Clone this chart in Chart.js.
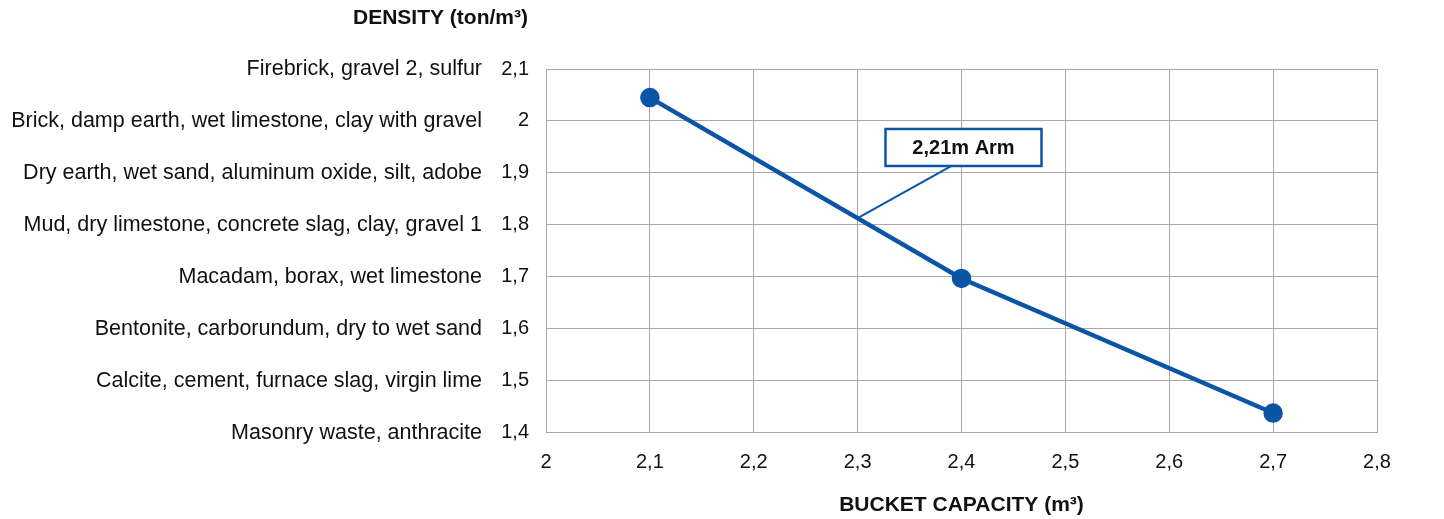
<!DOCTYPE html>
<html>
<head>
<meta charset="utf-8">
<script src="https://cdn.jsdelivr.net/npm/chart.js@4/dist/chart.umd.min.js"></script>
<style>
  html, body { margin: 0; padding: 0; background: #fff; }
  #wrap { width: 1444px; height: 519px; }
</style>
</head>
<body>
<div id="wrap"><canvas id="chart"></canvas></div>
<script>
// bucket capacity (m3) vs density (ton/m3)
var capacity = [2.1, 2.4, 2.7];
var density = [2.045, 1.697, 1.438];

// material names for each density tick, from 1,4 up to 2,1
var densityTicks = [1.4, 1.5, 1.6, 1.7, 1.8, 1.9, 2.0, 2.1];
var materials = [
  "Masonry waste, anthracite",
  "Calcite, cement, furnace slag, virgin lime",
  "Bentonite, carborundum, dry to wet sand",
  "Macadam, borax, wet limestone",
  "Mud, dry limestone, concrete slag, clay, gravel 1",
  "Dry earth, wet sand, aluminum oxide, silt, adobe",
  "Brick, damp earth, wet limestone, clay with gravel",
  "Firebrick, gravel 2, sulfur"
];

// callout
var calloutText = "2,21m Arm";
var calloutAt = { x: 2.4, y: 1.949 };   // box centre
var calloutTip = { x: 2.3, y: 1.813 };  // point on the line

var blue = "#0a55a6";
var gridColor = "#a8a8a8";
var fontFamily = "'Liberation Sans', Arial, Helvetica, sans-serif";

function comma(v) {
  return String(Math.round(v * 10) / 10).replace(".", ",");
}

// draws the y title and the callout box
var extras = {
  id: "extras",
  afterDatasetsDraw: function(chart) {
    var ctx = chart.ctx;
    var xs = chart.scales.x, ys = chart.scales.y;
    ctx.save();

    // y title above the numbers
    ctx.font = "bold 21px " + fontFamily;
    ctx.fillStyle = "#111";
    ctx.textAlign = "right";
    ctx.textBaseline = "middle";
    ctx.fillText("DENSITY (ton/m\u00b3)", ys.right - 18, 18);

    // callout leader
    var bx = xs.getPixelForValue(calloutAt.x) + 2;
    var by = ys.getPixelForValue(calloutAt.y);
    var w = 156, h = 37;
    ctx.strokeStyle = blue;
    ctx.lineWidth = 2;
    ctx.beginPath();
    ctx.moveTo(bx - 12, by + h / 2);
    ctx.lineTo(xs.getPixelForValue(calloutTip.x), ys.getPixelForValue(calloutTip.y));
    ctx.stroke();

    // callout box
    ctx.fillStyle = "#fff";
    ctx.fillRect(bx - w / 2, by - h / 2, w, h);
    ctx.lineWidth = 2.5;
    ctx.strokeRect(bx - w / 2, by - h / 2, w, h);
    ctx.fillStyle = "#111";
    ctx.font = "bold 20px " + fontFamily;
    ctx.textAlign = "center";
    ctx.fillText(calloutText, bx, by + 1);
    ctx.restore();
  }
};

var ctx = document.getElementById("chart").getContext("2d");
var chart = new Chart(ctx, {
  type: "scatter",
  data: {
    datasets: [{
      data: capacity.map(function(c, i) { return { x: c, y: density[i] }; }),
      showLine: true,
      borderColor: blue,
      backgroundColor: blue,
      borderWidth: 4.5,
      pointRadius: 7.5,
      pointHoverRadius: 7.5
    }]
  },
  options: {
    responsive: true,
    maintainAspectRatio: false,
    animation: false,
    layout: { padding: { left: 0, right: 67, top: 69, bottom: 1 } },
    plugins: {
      legend: { display: false },
      tooltip: { enabled: false }
    },
    scales: {
      x: {
        type: "linear",
        min: 2, max: 2.8,
        border: { display: true, color: gridColor },
        grid: { color: gridColor, drawTicks: false },
        ticks: {
          stepSize: 0.1,
          padding: 18,
          color: "#111",
          font: { family: fontFamily, size: 20 },
          callback: function(v) { return comma(v); }
        },
        title: {
          display: true,
          text: "BUCKET CAPACITY (m\u00b3)",
          color: "#111",
          font: { family: fontFamily, size: 21, weight: "bold" },
          padding: { top: 0, bottom: 0 }
        }
      },
      y: {
        type: "linear",
        position: "left",
        min: 1.4, max: 2.1,
        border: { display: true, color: gridColor },
        grid: { color: gridColor, drawTicks: false },
        afterFit: function(scale) { scale.width = 56; },
        ticks: {
          stepSize: 0.1,
          padding: 17,
          color: "#111",
          font: { family: fontFamily, size: 20 },
          callback: function(v) { return comma(v); }
        }
      },
      names: {
        type: "linear",
        position: "left",
        weight: 1,
        min: 1.4, max: 2.1,
        border: { display: false },
        grid: { display: false, drawTicks: false },
        afterFit: function(scale) { scale.width = 490; },
        ticks: {
          stepSize: 0.1,
          padding: 8,
          color: "#111",
          font: { family: fontFamily, size: 21.5 },
          callback: function(v) {
            for (var i = 0; i < densityTicks.length; i++) {
              if (Math.abs(densityTicks[i] - v) < 1e-6) return materials[i];
            }
            return "";
          }
        }
      }
    }
  },
  plugins: [extras]
});
</script>
</body>
</html>
